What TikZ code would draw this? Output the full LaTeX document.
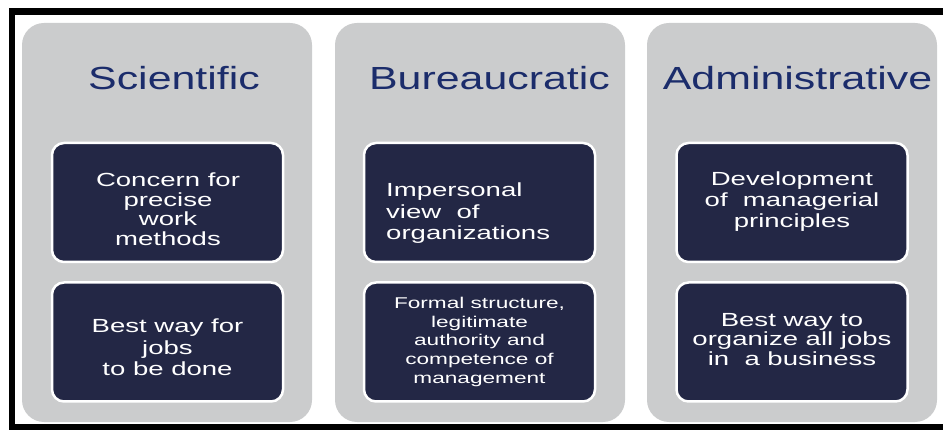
\documentclass[tikz,border=0pt]{standalone}
\usepackage{fontspec}
\setmainfont{Liberation Sans}
\usepackage{graphicx}
\usepackage{xcolor}
\usepackage{tikz}
\usetikzlibrary{positioning}
\definecolor{panelgray}{HTML}{CBCCCD}
\definecolor{cardnavy}{HTML}{232745}
\definecolor{headnavy}{HTML}{1B2C6B}
% stretched text block, c or l aligned
\newcommand{\widetext}[3][c]{\scalebox{#2}[1]{\begin{tabular}{@{}#1@{}}#3\end{tabular}}}
\tikzset{
    frame/.style={line width=6.5pt, black},
    panel/.style={fill=panelgray, rounded corners=22pt, minimum width=290pt, minimum height=399pt, inner sep=0pt},
    heading/.style={text=headnavy, font=\fontsize{32}{38}\selectfont, inner sep=0pt, anchor=base},
    card/.style={fill=cardnavy, draw=white, line width=2.5pt, rounded corners=12pt, minimum width=231pt, minimum height=119pt, inner sep=0pt},
    cardtext/.style={text=white, inner sep=0pt, font=\fontsize{19}{21.5}\selectfont}
}

\begin{document}
\begin{tikzpicture}[x=1pt, y=-1pt]
    \useasboundingbox (0,0) rectangle (943,430);
    % Outer frame
    \draw[frame] (943,11.5) -- (12,11.5) -- (12,427) -- (943,427);
    % Columns
    \node[panel] (sci) at (167,222.5) {};
    \node[panel] (bur) at (480,222.5) {};
    \node[panel] (adm) at (792,222.5) {};
    % Headings
    \node[heading] (scihead) at (174,89.5) {\scalebox{1.34}[1]{Scientific}};
    \node[heading] (burhead) at (489.5,89.5) {\scalebox{1.34}[1]{Bureaucratic}};
    \node[heading] (admhead) at (797.5,89.5) {\scalebox{1.34}[1]{Administrative}};
    % Cards
    \node[card] (sciup) at (167.5,202.5) {};
    \node[card] (scilow) at (167.5,342) {};
    \node[card] (burup) at (479.5,202.5) {};
    \node[card] (burlow) at (479.5,342) {};
    \node[card] (admup) at (792,202.5) {};
    \node[card] (admlow) at (792,342) {};
    % Card texts
    \node[cardtext, font=\fontsize{19}{19.5}\selectfont] (sciuptext) at (168,212) {\widetext{1.45}{Concern for\\precise\\work\\methods}};
    \node[cardtext] (scilowtext) at (167.5,350) {\widetext{1.45}{Best way for\\jobs\\to be done}};
    \node[cardtext, anchor=west] (buruptext) at (386,214) {\widetext[l]{1.45}{Impersonal\\ view\ \ of\\ organizations}};
    \node[cardtext, font=\fontsize{15.6}{18.7}\selectfont] (burlowtext) at (479.5,342) {\widetext{1.45}{Formal structure,\\legitimate\\authority and\\competence of\\management}};
    \node[cardtext, font=\fontsize{19}{21}\selectfont] (aduptext) at (792,202) {\widetext{1.45}{Development\\of\ \ managerial\\principles}};
    \node[cardtext, font=\fontsize{19}{19}\selectfont] (admlowtext) at (792,342) {\widetext{1.45}{Best way to\\organize all jobs\\in\ \ a business}};
\end{tikzpicture}
\end{document}
